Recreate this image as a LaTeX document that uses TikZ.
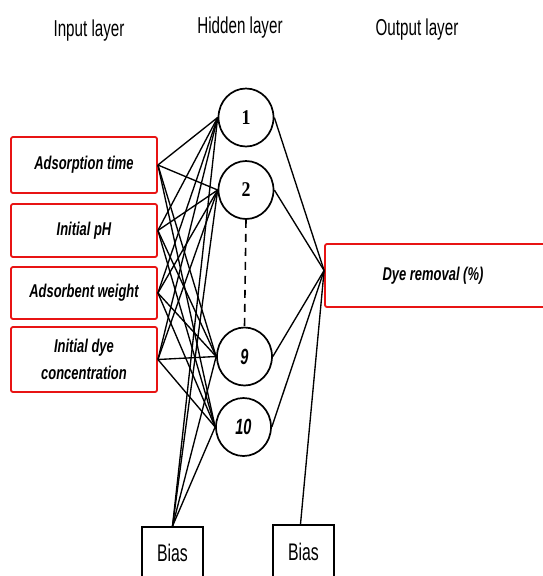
\documentclass[tikz,border=0pt]{standalone}
\usepackage{fontspec}
\usetikzlibrary{shapes.geometric}
\newfontfamily\narrowsans[FakeStretch=0.66]{Liberation Sans}
\newfontfamily\inputsans[FakeStretch=0.70]{Liberation Sans}
\newfontfamily\numserif[FakeStretch=0.85]{Liberation Serif}
\definecolor{boxred}{RGB}{232,20,20}
\begin{document}
\begin{tikzpicture}[x=1pt,y=-1pt,
  title/.style={font=\narrowsans\fontsize{23}{26}\selectfont, anchor=base, inner sep=0pt},
  inbox/.style={draw=boxred, line width=1.8pt, rounded corners=2pt, minimum width=146pt,
     align=center, inner sep=0pt, font=\inputsans\bfseries\itshape\fontsize{18.5}{27}\selectfont},
  neuron/.style={ellipse, draw, line width=1.7pt, minimum width=55pt, minimum height=58pt, inner sep=0pt},
  serifnum/.style={font=\numserif\bfseries\fontsize{21}{24}\selectfont},
  sansnum/.style={font=\narrowsans\bfseries\itshape\fontsize{22}{24}\selectfont},
  biasbox/.style={draw, line width=1.7pt, minimum width=61pt, inner sep=0pt,
     font=\narrowsans\fontsize{24}{26}\selectfont},
  conn/.style={line width=1.35pt, black},
]
\useasboundingbox (0,0) rectangle (543,576);
\fill[white] (0,0) rectangle (543,576);

% titles
\node[title] (tin)  at (89,36)  {Input layer};
\node[title] (thid) at (240,33) {Hidden layer};
\node[title] (tout) at (417,35) {Output layer};

% input boxes
\node[inbox, minimum height=56pt] (i1) at (84,165)   {Adsorption time};
\node[inbox, minimum height=53pt] (i2) at (84,230.5) {Initial pH};
\node[inbox, minimum height=52pt] (i3) at (84,293)   {Adsorbent weight};
\node[inbox, minimum height=65pt] (i4) at (84,359.5) {Initial dye\\concentration};

% hidden neurons
\node[neuron, serifnum] (h1)  at (246,117.5) {1};
\node[neuron, serifnum] (h2)  at (246,190)   {2};
\node[neuron, sansnum]  (h9)  at (244.5,356.5) {9};
\node[neuron, sansnum]  (h10) at (243.5,427) {10};

% output box
\node[inbox, minimum width=240pt, minimum height=63pt] (out) at (445,275.5)
  {\hspace*{-24pt}Dye removal (\%)};
\coordinate (oin) at ([yshift=5pt]out.west);

% bias boxes
\node[biasbox, minimum height=52pt] (b1) at (172.5,553) {Bias};
\node[biasbox, minimum height=54pt] (b2) at (303.5,552) {Bias};

% dashed ellipsis between neurons
\draw[line width=1.6pt, dash pattern=on 8pt off 6pt] (h2.south) -- (h9.north);

% input -> hidden
\foreach \i in {i1,i2,i3,i4}
  \foreach \h in {h1,h2,h9,h10}
    \draw[conn] (\i.east) -- (\h.west);

% bias -> hidden
\foreach \h in {h1,h2,h9,h10}
  \draw[conn] (b1.north) -- (\h.west);

% hidden -> output
\foreach \h in {h1,h2,h9,h10}
  \draw[conn] (\h.east) -- (oin);
\draw[conn] ([xshift=-3pt]b2.north) -- (oin);
\end{tikzpicture}
\end{document}
